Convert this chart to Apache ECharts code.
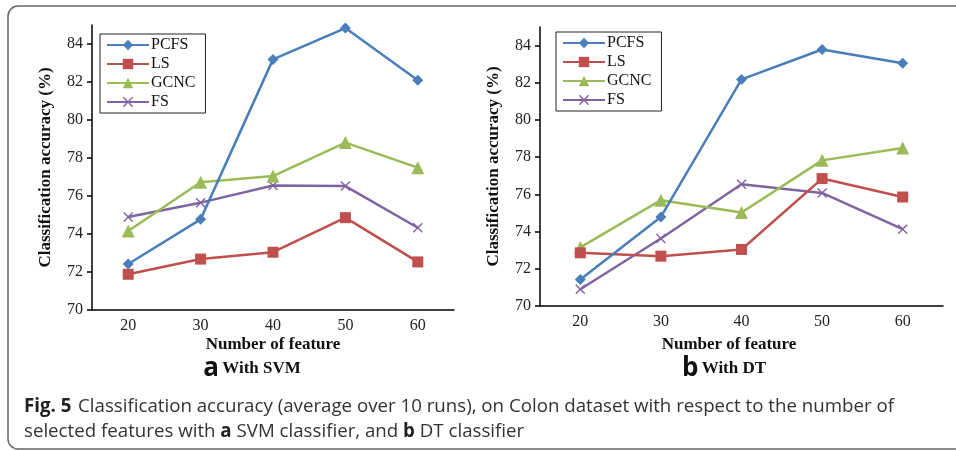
<!DOCTYPE html>
<html><head><meta charset="utf-8">
<script src="https://cdn.jsdelivr.net/npm/echarts@6/dist/echarts.min.js"></script>
<style>html,body{margin:0;padding:0;background:#fff}#c{width:956px;height:450px}</style>
</head><body><div id="c"></div><script>
const categories = ['20', '30', '40', '50', '60'];
const yTicks = [70, 72, 74, 76, 78, 80, 82, 84];
const seriesNames = ['PCFS', 'LS', 'GCNC', 'FS'];
const svmPCFS = [72.42, 74.77, 83.19, 84.84, 82.09];
const svmLS   = [71.88, 72.68, 73.04, 74.86, 72.53];
const svmGCNC = [74.16, 76.72, 77.05, 78.81, 77.49];
const svmFS   = [74.90, 75.65, 76.55, 76.52, 74.33];
const dtPCFS  = [71.43, 74.79, 82.18, 83.79, 83.05];
const dtLS    = [72.86, 72.68, 73.04, 76.85, 75.86];
const dtGCNC  = [73.15, 75.69, 75.03, 77.83, 78.49];
const dtFS    = [70.90, 73.63, 76.55, 76.08, 74.13];
const yTitle = 'Classification accuracy (%)';
const xTitle = 'Number of feature';
const caption1 = 'Classification accuracy (average over 10 runs), on Colon dataset with respect to the number of';

const SERIF = 'Liberation Serif';
const colors = ['#4a7ebb', '#c0504d', '#9bbb59', '#8064a2'];
const xSym = 'path://M0,1L1,0L5,4L9,0L10,1L6,5L10,9L9,10L5,6L1,10L0,9L4,5Z';
const symbols = ['diamond', 'rect', 'triangle', xSym];
const symSizes = [11, 11, 13, 10];

function mkX(i) {
  return {
    type: 'category', gridIndex: i, data: categories, boundaryGap: true,
    axisLine: {lineStyle: {color: '#000', width: 1.5}},
    axisTick: {inside: true, length: 4, lineStyle: {color: '#000', width: 1.5}},
    axisLabel: {fontFamily: SERIF, fontSize: 16, color: '#222', margin: 8},
    splitLine: {show: false}
  };
}
function mkY(i) {
  return {
    type: 'value', gridIndex: i, min: 70, max: 85, interval: 2,
    name: yTitle, nameLocation: 'middle', nameGap: 38, nameRotate: 90,
    nameTextStyle: {fontFamily: SERIF, fontSize: 17, fontWeight: 'bold', color: '#111'},
    axisLine: {show: true, lineStyle: {color: '#000', width: 1.5}},
    axisTick: {show: true, length: 5, customValues: yTicks, lineStyle: {color: '#000', width: 1.5}},
    axisLabel: {fontFamily: SERIF, fontSize: 16, color: '#222', margin: 9, customValues: yTicks},
    splitLine: {show: false}
  };
}
function mkSeries(i, arrs) {
  return arrs.map((d, k) => ({
    name: seriesNames[k], type: 'line', xAxisIndex: i, yAxisIndex: i, data: d,
    symbol: symbols[k], symbolSize: symSizes[k], showAllSymbol: true,
    lineStyle: {color: colors[k], width: 2.5},
    itemStyle: {color: colors[k]},
    z: 10 - k, animation: false
  }));
}
function mkLegend(left, top) {
  return {
    orient: 'vertical', left: left, top: top, data: seriesNames,
    itemWidth: 42, itemHeight: 13, itemGap: 3, padding: [3, 10, 3, 6],
    borderColor: '#222', borderWidth: 1, backgroundColor: '#fff',
    textStyle: {fontFamily: SERIF, fontSize: 16, color: '#111', padding: [0, 0, 0, -3]},
    selectedMode: false
  };
}

const chart = echarts.init(document.getElementById('c'), null, {renderer: 'canvas'});
const capFont = 'Open Sans';
const capSize = 18.7;
chart.setOption({
  animation: false,
  backgroundColor: '#fff',
  grid: [
    {left: 92, top: 25, width: 362, height: 285},
    {left: 540, top: 27, width: 403, height: 279}
  ],
  xAxis: [mkX(0), mkX(1)],
  yAxis: [mkY(0), mkY(1)],
  legend: [mkLegend(100, 34), mkLegend(556, 32)],
  series: [].concat(mkSeries(0, [svmPCFS, svmLS, svmGCNC, svmFS]), mkSeries(1, [dtPCFS, dtLS, dtGCNC, dtFS])),
  graphic: [
    {type: 'rect', shape: {x: 8, y: 6, width: 1000, height: 443, r: 10}, style: {fill: 'none', stroke: '#666', lineWidth: 1.5}, silent: true, z: -1},
    {type: 'text', x: 273, y: 345, style: {text: xTitle, fontFamily: SERIF, fontSize: 17, fontWeight: 'bold', fill: '#111', textAlign: 'center', textVerticalAlign: 'middle'}},
    {type: 'text', x: 729, y: 345, style: {text: xTitle, fontFamily: SERIF, fontSize: 17, fontWeight: 'bold', fill: '#111', textAlign: 'center', textVerticalAlign: 'middle'}},
    {type: 'text', x: 252, y: 369, style: {text: '{a|a} {t|With SVM}', textAlign: 'center', textVerticalAlign: 'middle', rich: {
      a: {fontFamily: 'Open Sans', fontSize: 26, fontWeight: 'bold', fill: '#111'},
      t: {fontFamily: SERIF, fontSize: 17, fontWeight: 'bold', fill: '#111'}}}},
    {type: 'text', x: 724, y: 369, style: {text: '{a|b} {t|With DT}', textAlign: 'center', textVerticalAlign: 'middle', rich: {
      a: {fontFamily: 'Open Sans', fontSize: 26, fontWeight: 'bold', fill: '#111'},
      t: {fontFamily: SERIF, fontSize: 17, fontWeight: 'bold', fill: '#111'}}}},
    {type: 'text', x: 24, y: 407, style: {text: '{b|Fig. 5}  {n|' + caption1 + '}', textVerticalAlign: 'middle', rich: {
      b: {fontFamily: capFont, fontSize: capSize, fontWeight: 'bold', fill: '#222'},
      n: {fontFamily: capFont, fontSize: capSize, fill: '#333'}}}},
    {type: 'text', x: 24, y: 432, style: {text: '{n|selected features with }{b|a}{n| SVM classifier, and }{b|b}{n| DT classifier}', textVerticalAlign: 'middle', rich: {
      b: {fontFamily: capFont, fontSize: capSize, fontWeight: 'bold', fill: '#222'},
      n: {fontFamily: capFont, fontSize: capSize, fill: '#333'}}}}
  ]
});
</script></body></html>
